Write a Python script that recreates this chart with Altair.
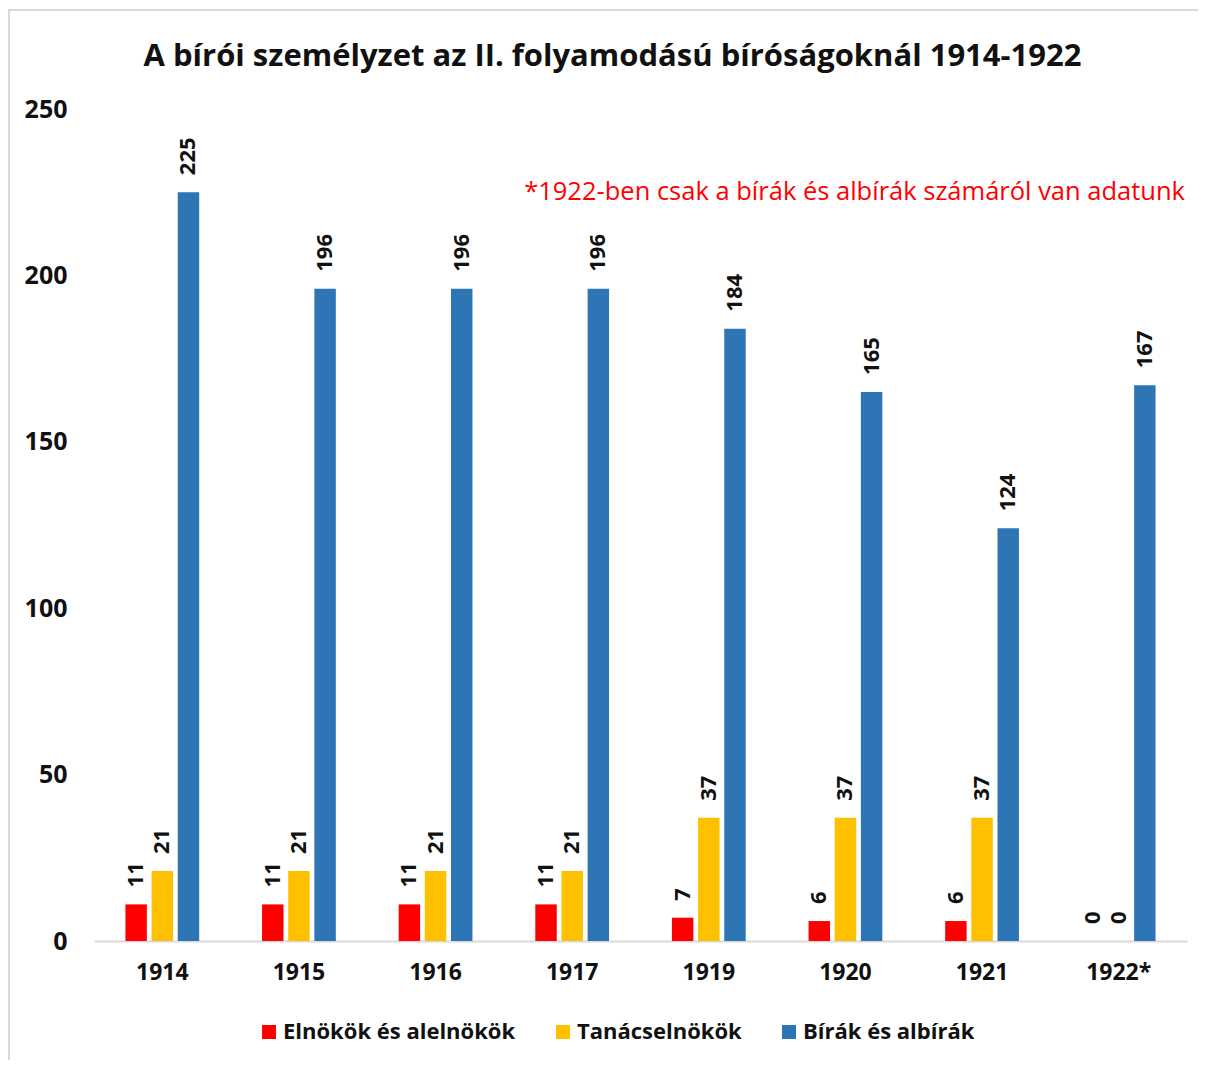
import altair as alt
import pandas as pd

years = ["1914", "1915", "1916", "1917", "1919", "1920", "1921", "1922*"]
series = ["Elnökök és alelnökök", "Tanácselnökök", "Bírák és albírák"]
elnokok = [11, 11, 11, 11, 7, 6, 6, 0]
tanacselnokok = [21, 21, 21, 21, 37, 37, 37, 0]
birak = [225, 196, 196, 196, 184, 165, 124, 167]
colors = ["#FF0000", "#FFC000", "#2E75B6"]

title_text = "A bírói személyzet az II. folyamodású bíróságoknál 1914-1922"
note_text = "*1922-ben csak a bírák és albírák számáról van adatunk"

rows = []
for name, vals in zip(series, [elnokok, tanacselnokok, birak]):
    for y, v in zip(years, vals):
        rows.append({"year": y, "series": name, "value": v})
df = pd.DataFrame(rows)

FONT = "Open Sans"
W, H = 1093, 832
yscale = alt.Scale(domain=[0, 250], nice=False, zero=True)

x_enc = alt.X("year:N", sort=years,
              scale=alt.Scale(paddingInner=0.46, paddingOuter=0.23),
              axis=alt.Axis(title=None, labelAngle=0, ticks=False, domain=True,
                            domainColor="#D9D9D9", domainWidth=2,
                            labelFont=FONT, labelFontSize=23, labelFontWeight="bold",
                            labelColor="#111111", labelPadding=20))
xo_enc = alt.XOffset("series:N", sort=series, scale=alt.Scale(paddingInner=0.18, paddingOuter=0))
y_enc = alt.Y("value:Q", scale=yscale,
              axis=alt.Axis(title=None, values=[0, 50, 100, 150, 200, 250], grid=False,
                            ticks=False, domain=False, labelFont=FONT, labelFontSize=25,
                            labelFontWeight="bold", labelColor="#111111", labelPadding=27))

base = alt.Chart(df)

bars = base.mark_bar().encode(
    x=x_enc, xOffset=xo_enc, y=y_enc,
    color=alt.Color("series:N", sort=series,
                    scale=alt.Scale(domain=series, range=colors),
                    legend=alt.Legend(title=None, orient="none", direction="horizontal",
                                      legendX=164, legendY=912,
                                      symbolType="square", symbolSize=196,
                                      symbolStrokeWidth=0, labelFont=FONT,
                                      labelFontSize=22, labelFontWeight="bold",
                                      labelColor="#111111", labelOffset=3,
                                      columnPadding=36, labelLimit=400)),
)

labels = base.mark_text(angle=270, align="left", baseline="middle", dx=17,
                        font=FONT, fontSize=22, fontWeight="bold", color="#111111").encode(
    x=x_enc, xOffset=xo_enc, y=y_enc, text=alt.Text("value:Q"),
)

note = alt.Chart(alt.Data(values=[{"t": note_text}])).mark_text(
    align="right", baseline="middle", font=FONT, fontSize=25.5, color="#FF0000"
).encode(x=alt.value(1091), y=alt.Y(datum=225, scale=yscale), text="t:N")

border = alt.Chart(alt.Data(values=[{}])).mark_rect(
    filled=False, stroke="#D9D9D9", strokeWidth=2, clip=False
).encode(x=alt.value(-85), x2=alt.value(1300), y=alt.value(-99), y2=alt.value(1100))

chart = alt.layer(border, bars, labels, note).properties(
    width=W, height=H,
    title=alt.TitleParams(title_text, font=FONT, fontSize=31, fontWeight="bold",
                          color="#111111", anchor="middle", dx=-28, offset=-64),
    autosize=alt.AutoSizeParams(type="none"),
    padding={"left": 86, "top": 101, "right": 11, "bottom": 119},
).configure_view(stroke=None)

chart.save("out.html", embed_options={"renderer": "svg", "actions": False})
